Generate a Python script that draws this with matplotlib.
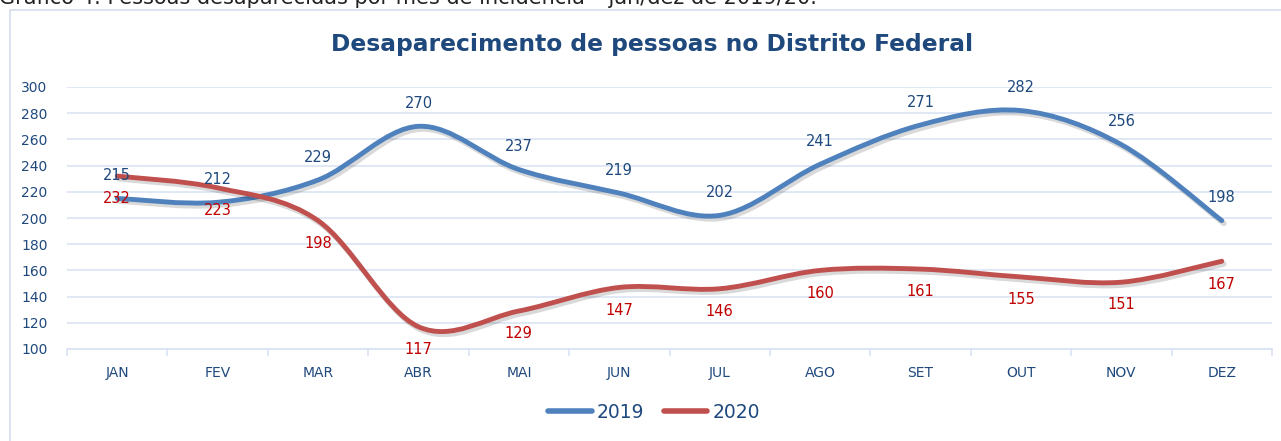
import matplotlib
matplotlib.use("Agg")
import matplotlib.pyplot as plt
import numpy as np
from matplotlib.path import Path
from matplotlib.patches import PathPatch, Rectangle
import matplotlib.patheffects as pe
from matplotlib.lines import Line2D

months = ["JAN", "FEV", "MAR", "ABR", "MAI", "JUN", "JUL", "AGO", "SET", "OUT", "NOV", "DEZ"]
y2019 = [215, 212, 229, 270, 237, 219, 202, 241, 271, 282, 256, 198]
y2020 = [232, 223, 198, 117, 129, 147, 146, 160, 161, 155, 151, 167]
yticks = [100, 120, 140, 160, 180, 200, 220, 240, 260, 280, 300]

title = "Desaparecimento de pessoas no Distrito Federal"
caption = "Gráfico 4: Pessoas desaparecidas por mês de incidência – jan/dez de 2019/20."

C19 = "#4F81BD"
C20 = "#C0504D"
NAVY = "#1F497D"
LAB20 = "#C00000"
GRID = "#D9E2F3"

plt.rcParams['font.family'] = ['DejaVu Sans']

W, H = 1281, 441
fig = plt.figure(figsize=(W / 100, H / 100), dpi=100)

# outer chart frame
fig.patches.append(Rectangle((10 / W, -0.05), 1.1, 1 - 10 / H + 0.05, transform=fig.transFigure,
                             fill=False, edgecolor="#D6DEEE", linewidth=1.2))
fig.text(-1 / W, 1 - 4 / H, caption, fontsize=15, color="#222222", ha="left", va="baseline")

ax = fig.add_axes([67 / W, 92 / H, (1272 - 67) / W, (349 - 87) / H])
ax.set_xlim(-0.5, len(months) - 0.5)
ax.set_ylim(100, 300)
ax.set_yticks(yticks)
ax.set_xticks(range(len(months)))
ax.set_xticklabels(months)
ax.tick_params(axis="both", length=0, colors=NAVY, labelsize=10)
ax.tick_params(axis="x", pad=12)
ax.tick_params(axis="y", pad=14)
for s in ["top", "right", "left"]:
    ax.spines[s].set_visible(False)
ax.spines["bottom"].set_color(GRID)
ax.spines["bottom"].set_linewidth(1.2)
ax.grid(axis="y", color=GRID, linewidth=1.1)
ax.set_axisbelow(True)
# category boundary ticks
ax.set_xticks(np.arange(-0.5, len(months), 1.0), minor=True)
ax.tick_params(axis="x", which="minor", length=5, color=GRID, width=1.2)


def smooth_path(ys):
    xs = np.arange(len(ys), dtype=float)
    P = np.column_stack([xs, np.asarray(ys, dtype=float)])
    n = len(P)
    verts = [P[0]]
    codes = [Path.MOVETO]
    for i in range(n - 1):
        p0 = P[i - 1] if i > 0 else P[i]
        p1 = P[i]
        p2 = P[i + 1]
        p3 = P[i + 2] if i + 2 < n else P[i + 1]
        c1 = p1 + (p2 - p0) / 6.0
        c2 = p2 - (p3 - p1) / 6.0
        verts += [c1, c2, p2]
        codes += [Path.CURVE4] * 3
    return Path(verts, codes)


shadow = [pe.SimpleLineShadow(offset=(1.5, -2), shadow_color="black", alpha=0.15, linewidth=4), pe.Normal()]
for ys, col in [(y2019, C19), (y2020, C20)]:
    patch = PathPatch(smooth_path(ys), facecolor="none", edgecolor=col, linewidth=3.5,
                      capstyle="round", joinstyle="round", zorder=3)
    patch.set_path_effects(shadow)
    ax.add_patch(patch)

for i, v in enumerate(y2019):
    ax.annotate(str(v), (i, v), xytext=(0, 11), textcoords="offset points", ha="center", va="bottom",
                fontsize=10.5, color=NAVY, zorder=5)
for i, v in enumerate(y2020):
    ax.annotate(str(v), (i, v), xytext=(0, -11), textcoords="offset points", ha="center", va="top",
                fontsize=10.5, color=LAB20, zorder=5)

fig.text(652 / W, 1 - 45 / H, title, fontsize=16.8, fontweight="bold", color=NAVY, ha="center", va="center")

handles = [Line2D([], [], color=C19, linewidth=4, solid_capstyle="round"),
           Line2D([], [], color=C20, linewidth=4, solid_capstyle="round")]
leg = fig.legend(handles, ["2019", "2020"], loc="center", bbox_to_anchor=(654 / W, 1 - 412 / H), ncol=2,
                 frameon=False, fontsize=13.5, handlelength=2.3, handletextpad=0.25, columnspacing=1.1)
for t in leg.get_texts():
    t.set_color(NAVY)

fig.savefig("out.png", dpi=100)
